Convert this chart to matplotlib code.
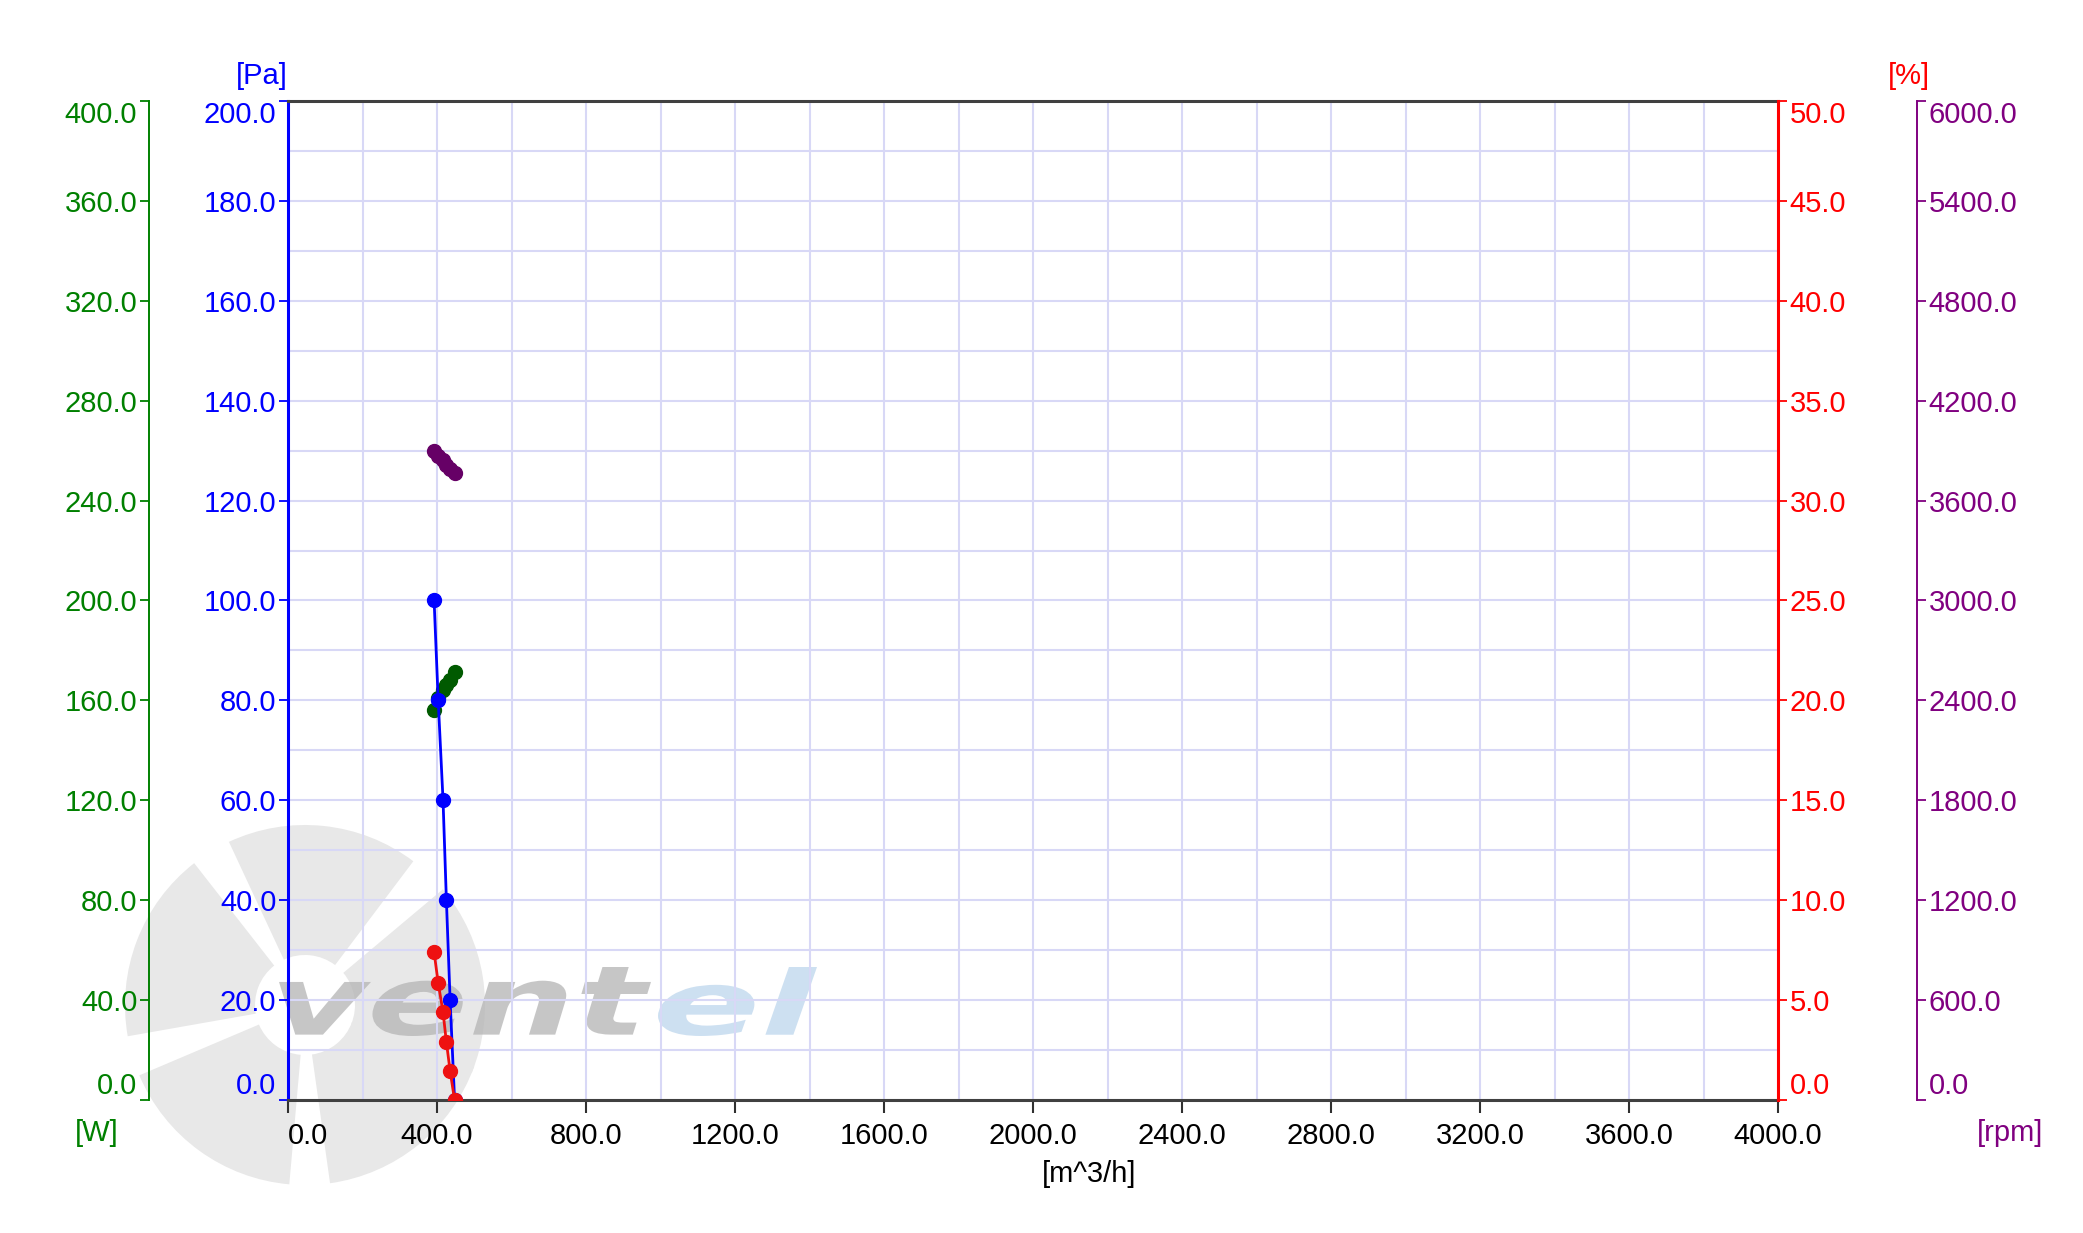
import numpy as np
import matplotlib
matplotlib.use("Agg")
from matplotlib import pyplot as plt
from matplotlib.patches import Wedge, PathPatch
from matplotlib.textpath import TextPath
from matplotlib.font_manager import FontProperties
from matplotlib.transforms import Affine2D

plt.rcParams['font.family'] = ['Liberation Sans', 'DejaVu Sans']

# air flow [m^3/h]
flow = [392, 403, 416, 425, 435, 447]
pressure = [100.0, 80.0, 60.0, 40.0, 20.0, 0.0]       # [Pa]
efficiency = [7.4, 5.85, 4.4, 2.9, 1.45, 0.0]         # [%]
power = [156.0, 161.0, 164.0, 166.0, 168.0, 171.5]    # [W]
speed = [3895, 3870, 3845, 3815, 3790, 3765]          # [rpm]

x_ticks = np.arange(0, 4001, 400)
pa_ticks = np.arange(0, 201, 20)
w_ticks = np.arange(0, 401, 40)
pct_ticks = np.arange(0, 51, 5)
rpm_ticks = np.arange(0, 6001, 600)

BLUE = '#0000ff'
GREEN = '#008000'
RED = '#ff0000'
PURPLE = '#800080'
FS = 21


def logo_text(axw, s, box, color, alpha):
    # text squeezed into a pixel box (x0, x1, top, bottom)
    fp = FontProperties(family='DejaVu Sans', weight='bold', style='italic')
    tp = TextPath((0, 0), s, size=100, prop=fp)
    bb = tp.get_extents()
    x0, x1, top, bottom = box
    tr = (Affine2D().translate(-bb.x0, -bb.y0)
          .scale((x1 - x0) / bb.width, -(bottom - top) / bb.height)
          .translate(x0, bottom))
    axw.add_patch(PathPatch(tr.transform_path(tp), facecolor=color,
                            edgecolor='none', alpha=alpha))


fig = plt.figure(figsize=(20.83, 12.33), dpi=100)

# watermark behind everything
wm = fig.add_axes([0, 0, 1, 1], zorder=0)
wm.set_xlim(0, 2083)
wm.set_ylim(1233, 0)
wm.axis('off')
for a in [20, 95, 170, 245, 320]:
    wm.add_patch(Wedge((305, 1005), 180, a, a + 62, width=130,
                       facecolor='#e8e8e8', edgecolor='none'))
logo_text(wm, 'vent', (279, 651, 967, 1036), '#b4b4b4', 0.75)
logo_text(wm, 'el', (658, 817, 967, 1036), '#c8ddf0', 0.9)

ax = fig.add_axes([0.1383, 0.1079, 0.7153, 0.8102])
ax.patch.set_visible(False)
ax_w = ax.twinx()
ax_p = ax.twinx()
ax_r = ax.twinx()
ax_w.set_zorder(1)
ax.set_zorder(2)
ax_p.set_zorder(3)
ax_r.set_zorder(4)

ax_w.yaxis.set_label_position('left')
ax_w.yaxis.set_ticks_position('left')
ax_w.spines['left'].set_position(('axes', -0.0933))
ax_r.spines['right'].set_position(('axes', 1.0933))

for a in (ax, ax_w, ax_p, ax_r):
    for s in a.spines.values():
        s.set_visible(False)

ax.spines['left'].set_visible(True)
ax.spines['left'].set_color(BLUE)
ax.spines['left'].set_linewidth(2.2)
for s in ('top', 'bottom'):
    ax.spines[s].set_visible(True)
    ax.spines[s].set_color('#404040')
    ax.spines[s].set_linewidth(2.2)
ax_p.spines['right'].set_visible(True)
ax_p.spines['right'].set_color(RED)
ax_p.spines['right'].set_linewidth(2.2)
ax_w.spines['left'].set_visible(True)
ax_w.spines['left'].set_color(GREEN)
ax_w.spines['left'].set_linewidth(1.4)
ax_r.spines['right'].set_visible(True)
ax_r.spines['right'].set_color(PURPLE)
ax_r.spines['right'].set_linewidth(1.4)

ax.set_xlim(0, 4000)
ax.set_ylim(0, 200)
ax_w.set_ylim(0, 400)
ax_p.set_ylim(0, 50)
ax_r.set_ylim(0, 6000)

ax.set_xticks(x_ticks)
ax.set_xticklabels([f"{v:.1f}" for v in x_ticks])
ax.tick_params(axis='x', colors='#303030', labelcolor='black', labelsize=FS,
               length=9, width=1.5, pad=7)

ax.set_yticks(pa_ticks)
ax.set_yticklabels([f"{v:.1f}" for v in pa_ticks])
ax_w.set_yticks(w_ticks)
ax_w.set_yticklabels([f"{v:.1f}" for v in w_ticks])
ax_p.set_yticks(pct_ticks)
ax_p.set_yticklabels([f"{v:.1f}" for v in pct_ticks])
ax_r.set_yticks(rpm_ticks)
ax_r.set_yticklabels([f"{v:.1f}" for v in rpm_ticks])

for a, c in ((ax, BLUE), (ax_w, GREEN), (ax_p, RED), (ax_r, PURPLE)):
    a.tick_params(axis='y', colors=c, labelsize=FS, length=6.5, width=1.3, pad=2)

# grid (lowest layer): every 200 m^3/h and every 10 Pa
ax_w.xaxis.set_visible(True)
ax_w.set_xticks(np.arange(0, 4001, 200), minor=True)
ax_w.set_yticks(np.arange(0, 401, 20), minor=True)
ax_w.tick_params(axis='x', which='both', length=0, labelbottom=False, labeltop=False)
ax_w.tick_params(axis='y', which='minor', length=0)
ax.tick_params(axis='x', which='minor', length=0)
ax_w.grid(True, which='both', color='#d8d8f6', linewidth=1.5)

# end labels kept inside the axis span
for a, lab in ((ax, 'label1'), (ax_w, 'label1'), (ax_p, 'label2'), (ax_r, 'label2')):
    ticks = a.yaxis.get_major_ticks()
    getattr(ticks[0], lab).set_va('bottom')
    getattr(ticks[-1], lab).set_va('top')
ax.xaxis.get_major_ticks()[0].label1.set_ha('left')

ax_w.plot(flow, power, '-o', color='#005a00', markersize=10, linewidth=1.5)
ax.plot(flow, pressure, '-o', color=BLUE, markersize=10, linewidth=2)
ax_p.plot(flow, efficiency, '-o', color='#ee1111', markersize=10, linewidth=2)
ax_r.plot(flow, speed, '-o', color='#660066', markersize=10, linewidth=1.5)

fig.text(0.1258, 0.938, '[Pa]', color=BLUE, fontsize=FS, ha='center', va='center')
fig.text(0.9165, 0.938, '[%]', color=RED, fontsize=FS, ha='center', va='center')
fig.text(0.0466, 0.081, '[W]', color=GREEN, fontsize=FS, ha='center', va='center')
fig.text(0.965, 0.081, '[rpm]', color=PURPLE, fontsize=FS, ha='center', va='center')
fig.text(0.523, 0.048, '[m^3/h]', color='black', fontsize=FS,
         ha='center', va='center')

fig.savefig('out.png', dpi=100, facecolor='white')
